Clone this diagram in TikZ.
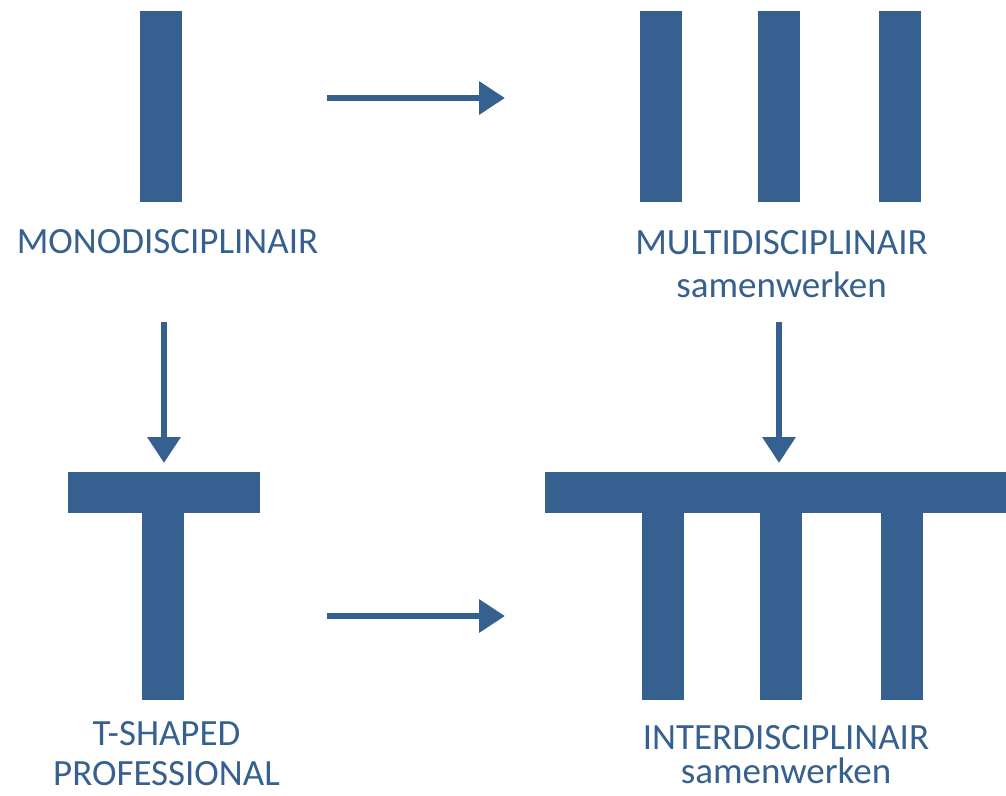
\documentclass[tikz,border=0pt]{standalone}
\usepackage{fontspec}
\setmainfont{Carlito}
\usetikzlibrary{arrows.meta}
\definecolor{tblue}{HTML}{36608F}
\begin{document}
\begin{tikzpicture}[x=1pt,y=-1pt,
  bar/.style={fill=tblue, inner sep=0pt, minimum width=42pt},
  lbl/.style={text=tblue, align=center, anchor=base},
  pijl/.style={draw=tblue, line width=6.5pt, -{Triangle[length=26pt,width=32pt]}}]
\useasboundingbox (0,0) rectangle (1006,795);

% monodisciplinair
\node (mono) at (161,106.5) [bar, minimum height=191pt] {};
\node (monotxt) at (167.5,253) [lbl, font=\fontsize{37}{42}\selectfont] {MONODISCIPLINAIR};

% multidisciplinair
\node (multi1) at (661,106.5) [bar, minimum height=191pt] {};
\node (multi2) at (778.5,106.5) [bar, minimum height=191pt] {};
\node (multi3) at (900,106.5) [bar, minimum height=191pt] {};
\node (multitxt) at (781.5,297) [lbl, font=\fontsize{37}{43}\selectfont] {MULTIDISCIPLINAIR\\samenwerken};

% T-shaped
\node (tbar) at (164,492.5) [bar, minimum width=192pt, minimum height=41pt] {};
\node (tstem) at (163,606) [bar, minimum height=187pt] {};
\node (ttxt) at (166.5,785) [lbl, font=\fontsize{37}{40}\selectfont] {T-SHAPED\\PROFESSIONAL};

% interdisciplinair
\node (ibar) at (780,492.5) [bar, minimum width=470pt, minimum height=41pt] {};
\node (ileg1) at (663,606) [bar, minimum height=187pt] {};
\node (ileg2) at (780.5,606) [bar, minimum height=187pt] {};
\node (ileg3) at (901.5,606) [bar, minimum height=187pt] {};
\node (itxt) at (786,783) [lbl, font=\fontsize{37}{34}\selectfont] {INTERDISCIPLINAIR\\samenwerken};

\coordinate (p1) at (327,98);
\coordinate (p2) at (505,98);
\coordinate (p3) at (327,616);
\coordinate (p4) at (505,616);
\coordinate (q1) at (164,322);
\coordinate (q2) at (164,463);
\coordinate (q3) at (779,322);
\coordinate (q4) at (779,463);

\draw[pijl] (p1) -- (p2);
\draw[pijl] (p3) -- (p4);
\draw[pijl] (q1) -- (q2);
\draw[pijl] (q3) -- (q4);
\end{tikzpicture}
\end{document}
